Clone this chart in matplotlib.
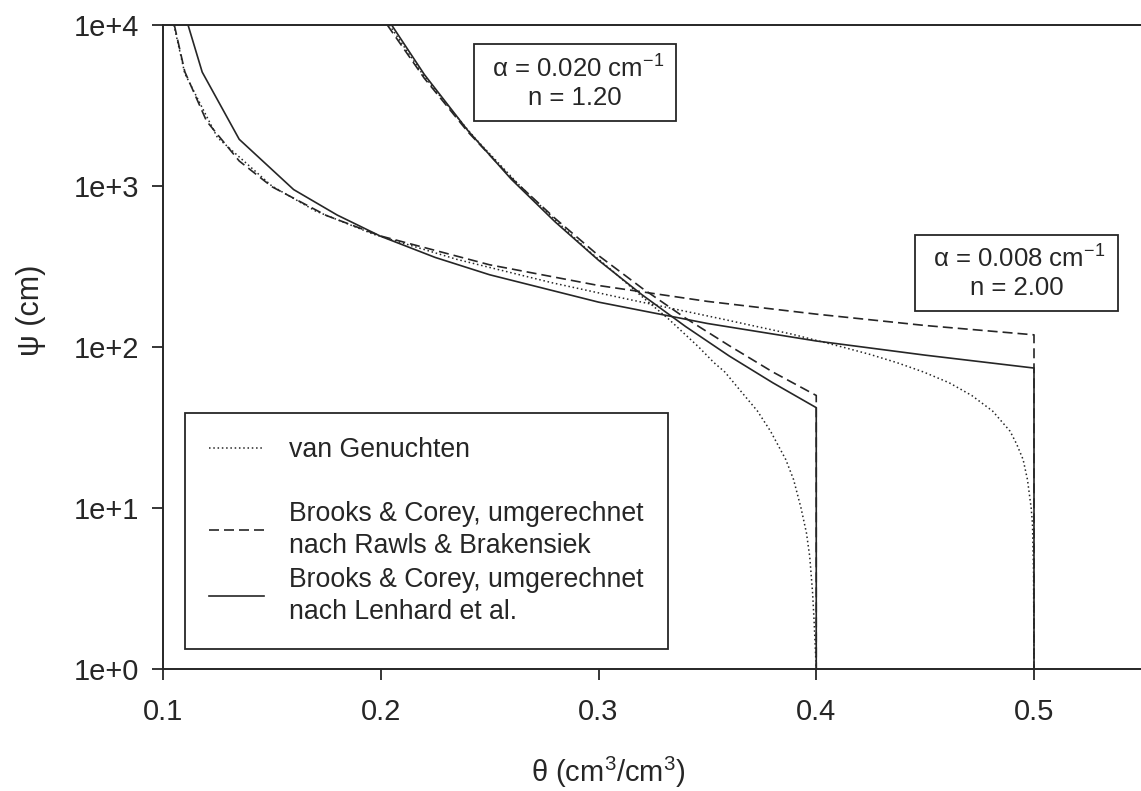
import matplotlib

matplotlib.use("AGG")
from matplotlib import pyplot
from matplotlib.ticker import NullLocator, FixedLocator, FixedFormatter

pyplot.rcParams["font.family"] = ["Liberation Sans", "DejaVu Sans"]
pyplot.rcParams["mathtext.fontset"] = "custom"
pyplot.rcParams["mathtext.rm"] = "Liberation Sans"
pyplot.rcParams["mathtext.it"] = "Liberation Sans:italic"

# soil A: alpha = 0.020, n = 1.20, theta_s = 0.4
theta_vg_a = [0.204, 0.219, 0.232, 0.243, 0.264, 0.281, 0.295, 0.306, 0.321, 0.332,
              0.346, 0.353, 0.358, 0.367, 0.373, 0.379, 0.386, 0.3896, 0.393, 0.3955,
              0.397, 0.3983, 0.399, 0.400]
psi_vg_a = [10000, 5000, 3000, 2000, 1000, 600, 400, 300, 200, 150,
            100, 80, 70, 50, 40, 30, 20, 15, 10, 7,
            5, 3, 2, 1]
theta_rb_a = [0.203, 0.22, 0.24, 0.26, 0.28, 0.30, 0.32, 0.34, 0.36, 0.38, 0.40, 0.40]
psi_rb_a = [10000, 4670, 2170, 1120, 630, 370, 232, 151, 102, 70, 50, 1]
theta_le_a = [0.205, 0.22, 0.24, 0.26, 0.28, 0.30, 0.32, 0.34, 0.36, 0.38, 0.40, 0.40]
psi_le_a = [10000, 4930, 2210, 1100, 600, 346, 211, 134, 88, 60, 42, 1]

# soil B: alpha = 0.008, n = 2.00, theta_s = 0.5
theta_vg_b = [0.105, 0.110, 0.125, 0.150, 0.170, 0.197, 0.235, 0.279, 0.312, 0.356,
              0.389, 0.412, 0.4246, 0.437, 0.4492, 0.461, 0.4714, 0.481, 0.489, 0.492,
              0.495, 0.497, 0.4987, 0.4993, 0.4998, 0.500]
psi_vg_b = [10000, 5000, 2000, 1000, 700, 500, 350, 250, 200, 150,
            120, 100, 90, 80, 70, 60, 50, 40, 30, 25,
            20, 15, 10, 8, 4, 1]
theta_rb_b = [0.1052, 0.11, 0.12, 0.135, 0.15, 0.175, 0.20, 0.25, 0.30, 0.35, 0.40, 0.45, 0.50, 0.50]
psi_rb_b = [10000, 5130, 2530, 1430, 990, 656, 489, 324, 241, 192, 160, 136, 119, 1]
theta_le_b = [0.1115, 0.118, 0.135, 0.16, 0.18, 0.20, 0.225, 0.25, 0.30, 0.35, 0.40, 0.45, 0.50, 0.50]
psi_le_b = [10000, 5100, 1950, 950, 660, 487, 360, 281, 190, 140, 109, 89, 74, 1]

x_ticks = [0.1, 0.2, 0.3, 0.4, 0.5]
x_labels = ["0.1", "0.2", "0.3", "0.4", "0.5"]
y_ticks = [1, 10, 100, 1000, 10000]
y_labels = ["1e+0", "1e+1", "1e+2", "1e+3", "1e+4"]

ink = "#262626"

f = pyplot.figure(figsize=(11.41, 7.91), dpi=100)
ax = f.add_axes([163 / 1141, 122 / 791, 978 / 1141, 644 / 791])

vg_style = dict(color=ink, linestyle=(0, (1, 1.8)), linewidth=1.1)
rb_style = dict(color=ink, linestyle=(0, (6, 3)), linewidth=1.2)
le_style = dict(color=ink, linestyle="-", linewidth=1.2)

l_vg, = ax.plot(theta_vg_a, psi_vg_a, **vg_style)
ax.plot(theta_vg_b, psi_vg_b, **vg_style)
l_rb, = ax.plot(theta_rb_a, psi_rb_a, **rb_style)
ax.plot(theta_rb_b, psi_rb_b, **rb_style)
l_le, = ax.plot(theta_le_a, psi_le_a, **le_style)
ax.plot(theta_le_b, psi_le_b, **le_style)

ax.set_yscale("log")
ax.set_xlim(0.1, 0.1 + 978 / 2177.5)
ax.set_ylim(1, 10000)
ax.xaxis.set_major_locator(FixedLocator(x_ticks))
ax.xaxis.set_major_formatter(FixedFormatter(x_labels))
ax.yaxis.set_major_locator(FixedLocator(y_ticks))
ax.yaxis.set_major_formatter(FixedFormatter(y_labels))
ax.yaxis.set_minor_locator(NullLocator())
ax.xaxis.set_minor_locator(NullLocator())

for side in ["left", "bottom", "top"]:
    ax.spines[side].set_linewidth(1.4)
    ax.spines[side].set_color(ink)
ax.spines["right"].set_visible(False)
ax.tick_params(direction="out", length=8, width=1.3, colors=ink,
               labelsize=21, top=False, right=False)
ax.tick_params(axis="x", pad=13)
ax.tick_params(axis="y", pad=9)

ax.set_xlabel(r"θ (cm$^3$/cm$^3$)", fontsize=21, color=ink)
ax.set_ylabel("ψ (cm)", fontsize=22, color=ink)
ax.xaxis.set_label_coords(0.455, -0.134)
ax.yaxis.set_label_coords(-0.12, 0.557)

box = dict(boxstyle="square,pad=0.42", facecolor="white", edgecolor=ink, linewidth=1.3)
ax.text(0.4213, 0.9107, " α = 0.020 cm$^{-1}$ \nn = 1.20", transform=ax.transAxes,
        ha="center", va="center", fontsize=18.5, color=ink, bbox=box, linespacing=1.2)
ax.text(0.8727, 0.615, " α = 0.008 cm$^{-1}$ \nn = 2.00", transform=ax.transAxes,
        ha="center", va="center", fontsize=18.5, color=ink, bbox=box, linespacing=1.2)

blank, = ax.plot([], [], color="none")
leg = ax.legend([l_vg, blank, l_rb, l_le],
                ["van Genuchten", " ",
                 "Brooks & Corey, umgerechnet\nnach Rawls & Brakensiek",
                 "Brooks & Corey, umgerechnet\nnach Lenhard et al."],
                loc="upper left", bbox_to_anchor=(0.0225, 0.3975), borderaxespad=0,
                fontsize=19.2, handlelength=2.05, handletextpad=0.95, borderpad=0.9,
                labelspacing=0.3, fancybox=False, framealpha=1, edgecolor=ink)
leg.get_frame().set_linewidth(1.3)
leg.get_texts()[1].set_fontsize(11)
for t in leg.get_texts():
    t.set_color(ink)
    t.set_linespacing(1.3)

pyplot.savefig("out.png", dpi=100)
pyplot.close()
